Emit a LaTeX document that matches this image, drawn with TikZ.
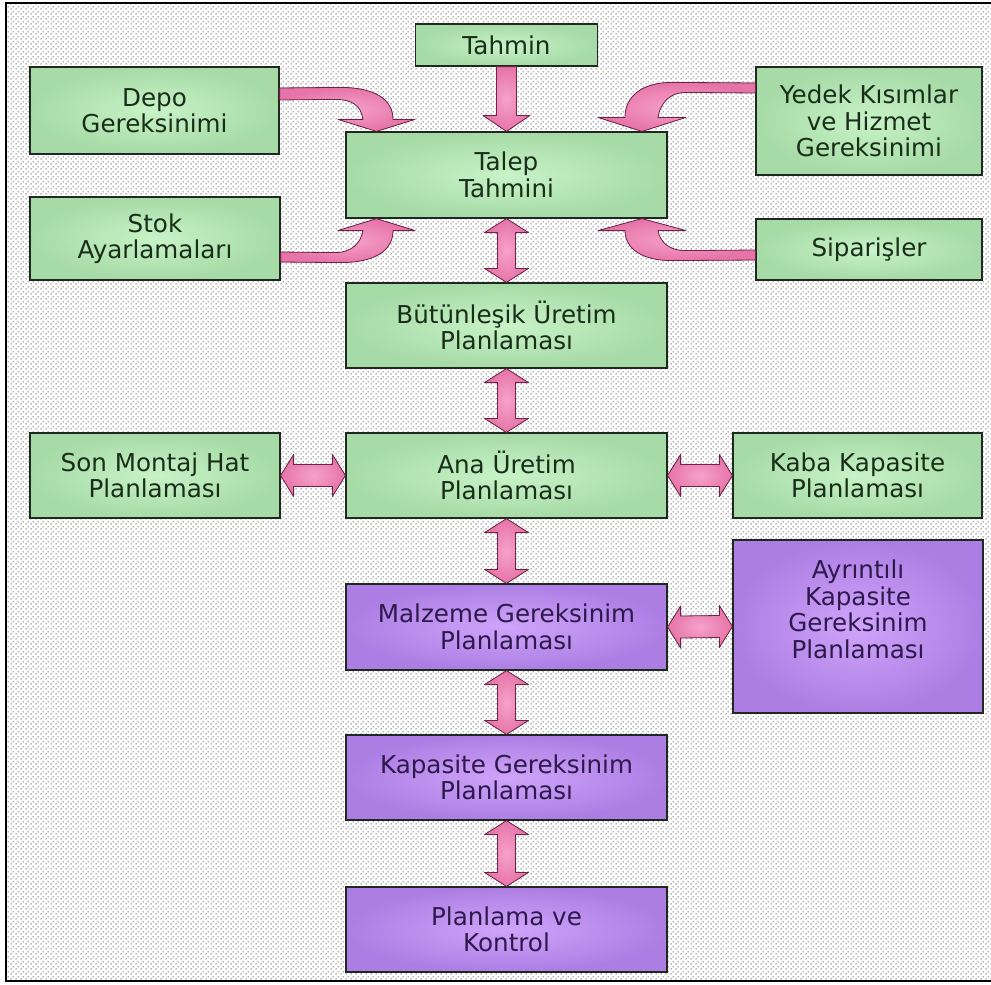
\documentclass[tikz,border=0pt]{standalone}
\usepackage{fontspec}
\setmainfont{DejaVu Sans}
\usetikzlibrary{calc,patterns.meta}

\definecolor{boxgreen}{RGB}{166,218,166}
\definecolor{boxgreenlight}{RGB}{200,243,200}
\definecolor{boxpurple}{RGB}{172,126,228}
\definecolor{boxpurplelight}{RGB}{208,164,250}
\definecolor{txtgreen}{RGB}{25,45,25}
\definecolor{txtpurple}{RGB}{45,25,75}
\definecolor{arrowpink}{RGB}{230,116,168}
\definecolor{arrowpinklight}{RGB}{246,162,202}
\definecolor{arrowedge}{RGB}{110,35,70}
\definecolor{boxedge}{RGB}{30,40,30}

\pgfdeclarepattern{
  name=bgdots, type=uncolored,
  bottom left={\pgfpoint{0bp}{0bp}}, top right={\pgfpoint{5bp}{5bp}},
  tile size={\pgfpoint{5bp}{5bp}},
  code={
    \pgfpathcircle{\pgfpoint{1.25bp}{1.25bp}}{0.85bp}
    \pgfpathcircle{\pgfpoint{3.75bp}{3.75bp}}{0.85bp}
    \pgfusepath{fill}
  }
}

\tikzset{
  stage/.style={draw=boxedge, line width=1.2bp, inner sep=0pt, align=center,
    font=\fontsize{24.6bp}{26.5bp}\selectfont},
  greenbox/.style={stage, shading=radial, inner color=boxgreenlight,
    outer color=boxgreen, text=txtgreen},
  purplebox/.style={stage, shading=radial, inner color=boxpurplelight,
    outer color=boxpurple, text=txtpurple},
  wide/.style={minimum width=321bp, minimum height=85bp},
  pinkarrow/.style={draw=arrowedge, line width=0.8bp, line join=round,
    shading=radial, inner color=arrowpinklight, outer color=arrowpink},
}

% vertical double block arrow from the bottom of #1 to the top of #2
\newcommand\vdouble[2]{%
  \filldraw[pinkarrow] (#1.south) -- ++(22,14) -- ++(-13,0)
    -- ($(#2.north)+(9,-14)$) -- ++(13,0) -- (#2.north) -- ++(-22,-14)
    -- ++(13,0) -- ($(#1.south)+(-9,14)$) -- ++(-13,0) -- cycle;}
% horizontal double block arrow from the right of #1 to the left of #2
\newcommand\hdouble[2]{%
  \filldraw[pinkarrow] (#1.east) -- ++(13,-21) -- ++(0,10)
    -- ($(#2.west)+(-13,-11)$) -- ++(0,-10) -- (#2.west) -- ++(-13,21)
    -- ++(0,-10) -- ($(#1.east)+(13,11)$) -- ++(0,10) -- cycle;}

\begin{document}
\begin{tikzpicture}[x=1bp,y=-1bp]
\useasboundingbox (0,0) rectangle (991,985);
\clip (0,0) rectangle (991,985);
\fill[white] (0,0) rectangle (991,985);

% dotted backdrop and frame
\fill[pattern=bgdots, pattern color=black!60] (6,3) rectangle (995,981);
\draw[line width=2bp] (995,3) -- (6,3) -- (6,981) -- (995,981);

% stages
\node[greenbox, minimum width=182bp, minimum height=42bp] (tahmin) at (506.5,45) {Tahmin};
\node[greenbox, minimum width=249bp, minimum height=87bp] (depo) at (154.5,110.5) {Depo\\Gereksinimi};
\node[greenbox, wide, minimum height=86bp] (talep) at (506.5,175) {Talep\\Tahmini};
\node[greenbox, minimum width=226bp, minimum height=108bp] (yedek) at (869,121) {Yedek Kısımlar\\ve Hizmet\\Gereksinimi};
\node[greenbox, minimum width=250bp, minimum height=83bp] (stok) at (155,238.5) {Stok\\Ayarlamaları};
\node[greenbox, minimum width=226bp, minimum height=61bp] (siparis) at (869,249.5) {Siparişler};
\node[greenbox, wide] (butun) at (506.5,325.5) {Bütünleşik Üretim\\Planlaması};
\node[greenbox, minimum width=250bp, minimum height=85bp] (sonmontaj) at (155,475.5) {Son Montaj Hat\\Planlaması};
\node[greenbox, wide] (ana) at (506.5,475.5) {Ana Üretim\\Planlaması};
\node[greenbox, minimum width=249bp, minimum height=85bp] (kaba) at (857.5,475.5) {Kaba Kapasite\\Planlaması};
\node[purplebox, wide, minimum height=86bp] (malzeme) at (506.5,627) {Malzeme Gereksinim\\Planlaması};
\node[purplebox, minimum width=250bp, minimum height=173bp] (ayrintili) at (858,626.5) {Ayrıntılı\\Kapasite\\Gereksinim\\Planlaması\\[8bp]};
\node[purplebox, wide] (kapasite) at (506.5,777.5) {Kapasite Gereksinim\\Planlaması};
\node[purplebox, wide] (planlama) at (506.5,929.5) {Planlama ve\\Kontrol};

% Tahmin feeds Talep Tahmini
\filldraw[pinkarrow] ($(tahmin.south)+(-10,0)$) -- ($(talep.north)+(-10,-16)$)
  -- ++(-13.5,0) -- (talep.north) -- ++(23.5,-16) -- ++(-13.5,0)
  -- ($(tahmin.south)+(10,0)$) -- cycle;

% curved feeds into Talep Tahmini
\coordinate (depoA) at ($(depo.east)+(0,-22.5)$);
\coordinate (depoB) at ($(depo.east)+(0,-10.5)$);
\coordinate (depoT) at ($(talep.north)+(-130,0)$);
\coordinate (yedekA) at ($(yedek.west)+(0,-38)$);
\coordinate (yedekB) at ($(yedek.west)+(0,-28)$);
\coordinate (yedekT) at ($(talep.north)+(135.5,0)$);
\coordinate (stokA) at ($(stok.east)+(0,23.5)$);
\coordinate (stokB) at ($(stok.east)+(0,13.5)$);
\coordinate (stokT) at ($(talep.south)+(-130,0)$);
\coordinate (sipA) at ($(siparis.west)+(0,10.5)$);
\coordinate (sipB) at ($(siparis.west)+(0,0.5)$);
\coordinate (sipT) at ($(talep.south)+(135.5,0)$);

\begin{scope}[shift={(depoT)}]
  \filldraw[pinkarrow] (depoA) -- (-36.5,-44) .. controls (-1.5,-44) and (16.5,-32) .. (16.5,-12)
    -- (38.5,-12) -- (0,0) -- (-38.5,-12) -- (-13.5,-12)
    .. controls (-15.5,-26) and (-24.5,-32) .. (-41.5,-32) -- (depoB) -- cycle;
\end{scope}
\begin{scope}[shift={(yedekT)}, xscale=-1]
  \filldraw[pinkarrow] (yedekA) -- (-30,-49) .. controls (0,-49) and (17,-35) .. (17,-14)
    -- (44,-14) -- (0,0) -- (-44,-14) -- (-16,-14)
    .. controls (-18,-28) and (-28,-39) .. (-43,-39) -- (yedekB) -- cycle;
\end{scope}
\begin{scope}[shift={(stokT)}, yscale=-1]
  \filldraw[pinkarrow] (stokA) -- (-36.5,-44) .. controls (-1.5,-44) and (16.5,-32) .. (16.5,-12)
    -- (38.5,-12) -- (0,0) -- (-38.5,-12) -- (-13.5,-12)
    .. controls (-15.5,-24) and (-24.5,-34) .. (-41.5,-34) -- (stokB) -- cycle;
\end{scope}
\begin{scope}[shift={(sipT)}, xscale=-1, yscale=-1]
  \filldraw[pinkarrow] (sipA) -- (-30,-42) .. controls (0,-42) and (17,-30) .. (17,-12)
    -- (44,-12) -- (0,0) -- (-44,-12) -- (-16,-12)
    .. controls (-18,-24) and (-28,-32) .. (-43,-32) -- (sipB) -- cycle;
\end{scope}

% two-way links
\vdouble{talep}{butun}
\vdouble{butun}{ana}
\vdouble{ana}{malzeme}
\vdouble{malzeme}{kapasite}
\vdouble{kapasite}{planlama}
\hdouble{sonmontaj}{ana}
\hdouble{ana}{kaba}
\hdouble{malzeme}{ayrintili}
\end{tikzpicture}
\end{document}
